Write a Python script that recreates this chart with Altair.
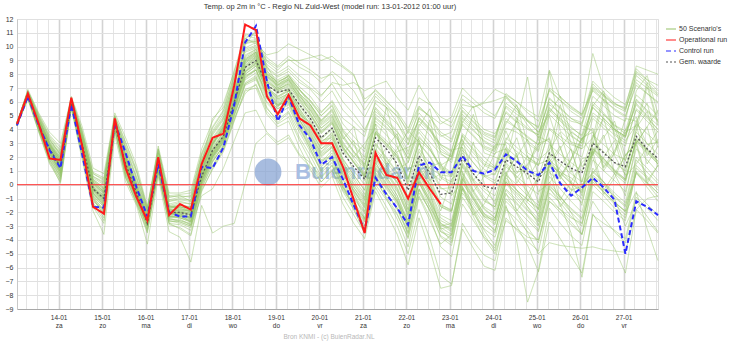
import json
import altair as alt
import pandas as pd

TITLE = "Temp. op 2m in °C - Regio NL Zuid-West (model run: 13-01-2012 01:00 uur)"
SOURCE = "Bron KNMI - (c) BuienRadar.NL"
WATERMARK = "Buienradar.nl"

# time axis: hours after 13-01-2012 00:00, model run at 01:00, 6-hourly steps
first_hour = 1
step_hours = 6
n_steps = 60
hours = [first_hour + step_hours * i for i in range(n_steps)]

day_ticks = [24 * (k + 1) for k in range(14)]
day_labels = ["14-01", "15-01", "16-01", "17-01", "18-01", "19-01", "20-01",
              "21-01", "22-01", "23-01", "24-01", "25-01", "26-01", "27-01"]
weekday_labels = ["za", "zo", "ma", "di", "wo", "do", "vr",
                  "za", "zo", "ma", "di", "wo", "do", "vr"]
minor_ticks = [h for h in range(6, 355, 6) if h % 24]
y_ticks = list(range(-9, 13))

series_names = ["50 Scenario's", "Operational run", "Control run", "Gem. waarde"]
series_colors = ["#96c36a", "#ff1a1a", "#2b2bff", "#555555"]
series_dash = [[1, 0], [1, 0], [5, 3], [2, 2]]

operational = [4.4, 6.6, 4.4, 1.9, 1.8, 6.3, 2.8, -1.6, -2.1, 4.8, 1.2, -0.9, -2.6, 2.0, -2.2,
               -1.4, -1.8, 1.5, 3.4, 3.7, 7.2, 11.6, 11.2, 6.4, 5.1, 6.5, 4.8, 4.3, 3.0, 3.0,
               1.3, -1.1, -3.5, 2.3, 0.7, 0.5, -1.0, 0.9, -0.3, -1.4]

control = [4.3, 6.4, 4.3, 2.5, 1.2, 5.8, 2.2, -1.6, -1.65, 4.5, 2.3, -0.2, -2.3, 1.5, -2.0,
           -2.3, -2.3, 1.3, 1.2, 2.7, 5.8, 10.3, 11.5, 7.5, 4.6, 6.4, 4.3, 3.3, 1.45, 2.0,
           0.4, -1.5, -3.3, 0.5, -0.7, -1.7, -2.9, 1.4, 1.6, 0.9, 0.9, 2.1, 1.0, 0.8, 1.1,
           2.2, 1.7, 1.0, 0.7, 1.6, 0.1, -0.8, -0.2, 0.5, -0.2, -1.1, -5.0, -1.2, -1.6, -2.2]

mean_value = [4.4, 6.5, 4.3, 2.6, 1.3, 5.9, 2.9, -0.3, -1.0, 4.4, 1.5, -0.6, -2.8, 1.5, -2.0,
              -2.0, -2.2, 0.6, 2.5, 3.5, 6.0, 8.5, 9.0, 7.2, 6.7, 6.9, 5.8, 4.8, 3.4, 4.1,
              2.3, 1.3, 0.4, 3.4, 2.6, 1.5, -0.4, 2.1, 0.8, -0.7, -0.6, 2.0, 0.8, -0.1, -0.3,
              1.8, 1.3, 0.8, 0.2, 2.3, 1.7, 1.2, 0.85, 3.0, 2.3, 1.6, 1.3, 3.5, 2.6, 1.9]

s01 = [4.4, 6.6, 4.6, 2.2, 1.6, 6.2, 2.7, -1.2, -1.8, 4.7, 1.2, -0.8, -2.7, 1.9, -2.1,
       -1.6, -1.9, 1.3, 3.2, 3.9, 7.1, 10.8, 10.6, 6.8, 5.6, 6.8, 5.1, 4.5, 3.2, 3.4,
       1.8, -0.6, -2.5, 2.0, 1.0, 0.2, -1.5, 1.3, 0.1, -1.6, -1.9, 1.6, 0.4, -0.5, -1.2,
       1.5, 0.4, -0.5, -1.8, 1.4, 0.9, 0.5, -0.2, 2.6, 1.8, 1.0, 0.4, 3.2, 2.4, 1.5]
s02 = [4.3, 6.4, 4.4, 2.6, 1.2, 5.8, 3.0, -1.5, -1.7, 4.5, 2.1, -0.4, -2.4, 1.5, -2.0,
       -2.3, -2.3, 1.2, 1.3, 2.7, 5.6, 10.1, 11.2, 7.6, 4.8, 6.2, 4.5, 3.4, 1.7, 2.0,
       0.4, -1.3, -3.0, 0.9, -0.2, -1.2, -2.6, 1.5, 1.2, 0.7, 0.6, 2.3, 1.1, 0.6, 0.8,
       2.4, 1.6, 1.0, 0.5, 1.9, 0.6, -0.4, -0.1, 0.9, 0.2, -0.8, -1.5, 0.8, 0.1, -0.6]
s03 = [4.5, 6.8, 5.0, 3.4, 2.4, 6.3, 3.8, 0.6, 0.2, 4.9, 2.8, 0.9, -1.8, 2.6, -0.9,
       -0.8, -1.2, 1.9, 3.8, 4.9, 7.8, 10.2, 10.4, 8.9, 8.3, 9.1, 8.5, 8.1, 7.4, 8.2,
       7.6, 6.8, 5.4, 6.6, 5.8, 4.9, 3.2, 4.6, 3.9, 2.8, 2.1, 4.3, 3.5, 2.6, 2.2,
       4.1, 3.8, 3.2, 2.5, 8.2, 3.9, 3.1, 2.8, 5.2, 4.6, 3.9, 3.4, 6.1, 5.3, 4.6]
s04 = [4.4, 6.3, 4.1, 1.8, 0.6, 5.7, 2.4, -1.0, -2.2, 4.1, 0.8, -1.2, -3.0, 1.1, -2.6,
       -2.8, -3.1, 0.2, 2.0, 3.1, 5.2, 7.4, 7.9, 5.6, 4.5, 5.2, 3.4, 2.1, 0.6, 1.4,
       -0.5, -1.8, -3.4, 0.3, -0.9, -2.1, -3.9, -0.8, -2.3, -4.5, -5.2, -1.4, -2.6, -3.8, -4.6,
       -1.2, -2.0, -3.1, -4.2, -0.9, -1.8, -2.7, -3.6, 0.4, -0.6, -1.4, -2.2, 1.2, 0.5, -0.4]
s05 = [4.3, 6.5, 4.2, 2.9, 1.9, 6.0, 3.2, 0.1, -0.6, 4.4, 1.9, -0.3, -2.2, 1.7, -1.6,
       -1.4, -1.7, 1.0, 2.9, 4.2, 6.6, 9.4, 9.8, 8.0, 7.5, 7.8, 6.9, 5.8, 4.6, 5.5,
       3.6, 2.4, 1.4, 4.8, 4.1, 3.3, 1.9, 4.0, 3.1, 2.2, 1.8, 4.6, 3.9, 3.2, 2.7,
       5.3, 4.6, 4.0, 3.6, 6.2, 5.6, 4.8, 4.5, 7.3, 6.5, 5.7, 5.3, 8.4, 7.6, 7.2]
s06 = [4.4, 6.6, 4.8, 3.1, 2.2, 6.1, 3.6, 0.4, -0.2, 4.6, 2.3, 0.2, -2.0, 2.1, -1.5,
       -1.7, -2.0, 0.7, 2.2, 3.6, 6.3, 8.8, 9.4, 7.7, 6.9, 7.3, 6.4, 5.6, 4.4, 5.0,
       3.0, 1.9, 0.8, 3.9, 3.2, 2.3, 0.2, 3.4, 2.6, 1.3, 0.8, 3.7, 2.9, 2.0, 1.3,
       3.9, 2.1, 0.4, 1.8, 5.0, 2.6, 0.9, 3.4, 2.1, 5.1, 4.2, 1.7, 4.6, 5.9, 3.0]
s07 = [4.5, 6.4, 4.0, 2.3, 0.9, 5.8, 2.6, -0.7, -1.4, 4.3, 1.3, -0.9, -3.2, 1.3, -2.4,
       -2.2, -2.7, 0.1, 1.8, 3.1, 5.4, 8.0, 8.6, 6.9, 6.1, 6.5, 5.2, 3.9, 2.6, 3.1,
       1.2, -0.2, -1.4, 1.8, 0.6, -0.8, -2.9, 0.9, -0.6, -3.2, -4.1, -0.3, -1.9, -3.6, -4.8,
       -1.6, -3.0, -4.4, -6.3, -2.7, -3.9, -5.2, -6.4, -2.1, -3.4, -4.6, -6.4, -1.8, -2.6, -3.5]
s08 = [4.4, 6.7, 4.5, 2.7, 1.5, 6.2, 3.1, -0.1, -0.8, 4.5, 1.6, -0.5, -2.5, 1.8, -1.8,
       -1.9, -1.8, 0.9, 2.6, 3.8, 6.4, 8.6, 9.1, 7.5, 6.8, 7.2, 6.2, 5.4, 4.1, 4.7,
       2.9, 2.1, 1.2, 4.4, 1.5, 2.6, 3.9, 3.1, 0.9, 0.3, 2.5, 2.7, -0.5, 0.6, 2.3,
       2.6, 0.9, 1.1, 3.5, 3.1, 0.4, 1.8, 4.3, 3.9, 1.2, 2.3, 4.8, 4.6, 2.9, 3.1]
s09 = [4.3, 6.2, 3.8, 1.5, 0.2, 5.6, 2.0, -1.6, -2.8, 4.0, 0.6, -1.4, -3.5, 0.9, -2.9,
       -3.1, -3.6, -0.4, 1.1, 2.4, 4.6, 6.8, 7.0, 5.1, 4.2, 4.6, 2.7, 1.1, -0.2, 0.6,
       -1.4, -2.8, -3.9, -0.5, -2.0, -3.6, -5.8, -2.4, -4.7, -7.5, -7.3, -2.8, -4.1, -5.1, -5.5,
       -1.8, -2.5, -3.4, -4.0, -0.6, -1.3, -2.3, -3.0, 0.7, 0.0, -0.9, -1.6, 1.8, 0.9, 0.1]
s10 = [4.4, 6.5, 4.3, 2.4, 1.0, 5.9, 2.8, -0.4, -1.2, 4.4, 1.4, -0.7, -2.8, 1.4, -2.2,
       -2.1, -2.5, 0.4, 2.3, 3.4, 5.8, 8.2, 8.7, 6.7, 5.9, 6.3, 4.9, 3.7, 2.2, 2.8,
       0.9, -0.4, -1.6, 1.6, 0.3, -1.1, -3.2, 0.4, -1.3, -3.4, -3.9, -0.1, -1.8, -3.3, -4.4,
       -1.5, -4.1, -8.5, -6.2, -1.7, -2.8, -3.7, -4.4, -0.5, -1.2, -2.0, -2.6, 1.0, 0.2, -0.6]
s11 = [4.5, 6.9, 5.2, 3.8, 3.0, 6.4, 4.2, 1.2, 0.8, 5.2, 3.4, 1.4, -1.6, 2.8, -0.6,
       -0.6, -0.4, 2.6, 4.6, 5.9, 8.2, 10.6, 10.2, 9.4, 9.6, 10.2, 9.8, 9.4, 9.0, 9.3,
       8.6, 8.0, 5.9, 6.9, 6.1, 5.2, 3.7, 5.6, 4.9, 3.6, 3.1, 5.4, 4.6, 3.8, 3.5,
       5.7, 5.1, 4.6, 4.2, 7.0, 6.4, 5.6, 5.1, 9.5, 7.0, 6.3, 5.8, 8.2, 7.6, 6.8]
s12 = [4.3, 6.3, 4.2, 2.0, 0.8, 5.8, 2.5, -0.9, -1.9, 4.2, 1.0, -1.0, -2.9, 1.2, -2.5,
       -2.5, -2.9, -0.3, 1.6, 2.9, 5.0, 7.2, 7.6, 6.0, 5.3, 5.8, 4.1, 2.8, 1.4, 2.3,
       0.4, -0.9, -2.0, 1.2, 0.0, -1.3, -3.0, 0.2, -1.6, -3.0, -2.8, 0.9, -0.4, -1.6, -2.1,
       0.6, 2.3, -1.2, 0.5, 1.1, -1.6, -0.5, 1.9, 2.0, -0.7, 0.5, 2.2, 2.9, 0.1, 1.4]
s13 = [4.4, 6.6, 4.7, 3.0, 2.0, 6.1, 3.4, 0.3, -0.3, 4.7, 2.2, 0.1, -2.1, 2.0, -1.4,
       -1.2, -1.4, 1.6, 3.4, 4.5, 7.2, 9.9, 10.3, 8.4, 7.8, 8.2, 7.4, 6.9, 6.0, 6.8,
       5.4, 4.6, 3.8, 5.9, 5.1, 4.4, 3.3, 5.2, 4.3, 3.5, 3.8, 6.2, 5.6, 6.0, 6.9,
       6.5, 6.0, 5.2, 4.6, 6.8, 6.1, 5.5, 5.0, 7.1, 6.5, 5.9, 5.5, 7.6, 7.0, 6.4]
s14 = [4.3, 6.4, 4.1, 2.5, 1.1, 5.9, 2.9, -0.6, -1.5, 4.3, 1.2, -0.8, -2.6, 1.6, -2.1,
       -2.0, -2.2, 0.5, 2.1, 3.3, 5.7, 8.1, 8.8, 7.0, 6.2, 6.6, 5.3, 4.2, 2.9, 3.6,
       1.6, 0.5, -0.7, 2.5, 1.4, 0.2, -1.8, 1.7, 0.5, -1.4, -1.9, 1.5, 0.3, -0.9, -1.8,
       0.9, -0.4, -1.6, -2.9, -0.2, -1.4, -3.5, -6.7, -2.2, -2.8, -3.3, -3.9, -0.6, -1.4, -2.2]
s15 = [4.4, 6.5, 4.4, 2.8, 1.7, 6.0, 3.0, -0.2, -0.9, 4.4, 1.7, -0.5, -2.6, 1.5, -2.0,
       -2.2, -2.4, 0.6, 2.5, 3.5, 6.1, 8.4, 9.0, 7.3, 6.6, 7.0, 5.7, 4.6, 3.3, 4.0,
       2.2, 3.2, 0.3, 1.5, 2.7, 3.7, -0.1, 0.4, 1.3, 1.6, -0.8, 0.2, 3.1, 0.1, -1.4,
       1.9, 3.4, 0.8, -1.3, 2.5, 3.8, 1.2, -0.8, 3.4, 4.8, 2.1, 0.7, 4.1, 5.3, 2.7]
s16 = [4.5, 6.7, 4.9, 3.3, 2.1, 6.2, 3.5, 0.5, 0.0, 4.8, 2.5, 0.4, -1.9, 2.3, -1.2,
       -1.0, -1.1, 1.8, 3.6, 4.7, 7.4, 9.6, 9.9, 8.2, 7.6, 8.0, 7.1, 6.4, 5.3, 6.0,
       4.4, 3.5, 2.6, 5.6, 4.7, 3.9, 2.4, 4.9, 4.1, 2.9, 2.5, 5.1, 4.3, 3.4, 3.0,
       5.9, 5.3, 4.7, 4.1, 6.9, 6.1, 5.3, 4.8, 7.5, 6.7, 5.9, 5.4, 7.9, 7.2, 6.5]
s17 = [4.4, 6.3, 3.9, 1.6, 0.4, 5.7, 2.2, -1.3, -2.4, 4.0, 0.5, -1.3, -3.3, 0.9, -2.8,
       -2.9, -3.3, -0.2, 1.4, 2.6, 4.8, 6.6, 7.3, 5.5, 4.7, 5.3, 3.8, 2.4, 1.0, 1.9,
       0.1, -1.2, -2.5, 0.7, -0.6, -1.8, -3.6, -0.3, -1.9, -3.8, -4.4, -0.6, -1.7, -2.9, -3.5,
       0.2, -0.7, -1.6, -2.5, 1.3, 0.6, -0.3, -1.0, 2.4, 1.6, 0.8, 0.1, 3.3, 2.5, 1.7]
s18 = [4.4, 6.8, 5.1, 3.6, 2.7, 6.3, 3.9, 0.9, 0.5, 5.0, 3.1, 1.1, -1.7, 2.5, -0.8,
       -0.7, -0.6, 2.3, 4.2, 5.4, 8.0, 10.4, 10.5, 9.2, 8.6, 9.3, 8.8, 8.3, 7.7, 8.0,
       6.8, 6.0, 4.9, 6.4, 5.6, 4.5, 2.9, 4.8, 4.0, 2.6, 2.0, 4.4, 3.6, 2.7, 2.4,
       4.6, 4.1, 3.4, 2.9, 5.8, 5.2, 4.6, 4.4, 7.0, 6.4, 5.8, 5.6, 8.6, 8.3, 8.0]
s19 = [4.3, 6.2, 3.9, 1.7, 0.1, 5.5, 1.8, -1.9, -3.6, 3.6, 0.2, -1.5, -4.3, 0.6, -3.4,
       -3.8, -5.6, -1.5, -3.5, -3.0, -2.8, 0.1, 3.0, 3.7, 2.9, 3.4, 2.1, 1.3, 0.2, 1.0,
       -0.4, -1.5, -2.4, 0.8, -0.3, -1.4, -3.1, 0.1, -1.2, -2.8, -3.3, 0.1, -1.0, -2.2, -2.6,
       0.5, -0.4, -1.1, -1.8, 1.6, 0.9, 0.1, -0.6, 2.6, 1.9, 1.1, 0.4, 3.1, 2.3, 1.5]
s20 = [4.5, 6.6, 4.6, 2.9, 1.8, 6.0, 3.3, 0.2, -0.5, 4.6, 2.0, -0.2, -2.3, 1.8, -1.7,
       -1.5, -1.6, 1.1, 3.0, 4.1, 6.8, 9.1, 9.6, 7.9, 7.1, 7.6, 6.5, 5.7, 4.5, 5.1,
       3.3, 4.2, 1.1, 2.3, 5.6, 2.8, 1.1, 1.6, 4.7, 1.4, 0.9, 2.9, 5.1, 2.3, 2.0,
       1.6, 4.9, 2.3, 1.8, 2.5, 5.8, 3.0, 2.6, 3.4, 6.6, 3.7, 3.2, 4.3, 7.4, 4.5]
s21 = [4.4, 6.5, 4.3, 2.3, 0.9, 5.9, 2.7, -0.6, -1.3, 4.3, 1.3, -0.8, -2.7, 1.3, -2.3,
       -2.4, -2.6, 0.3, 2.0, 3.2, 5.5, 7.9, 8.3, 6.5, 5.7, 6.1, 4.7, 3.5, 2.1, 2.7,
       0.7, -0.5, -1.7, 1.3, 0.1, -1.0, -2.8, 0.5, -1.1, -2.9, -3.4, -0.2, -2.3, -3.9, -5.0,
       -2.6, -3.2, -3.8, -4.0, -1.2, -1.8, -2.4, -2.8, 0.2, -0.5, -1.3, -1.9, 1.4, 0.6, -0.2]
s22 = [4.4, 6.5, 4.5, 2.6, 1.4, 6.0, 3.0, -0.3, -1.0, 4.4, 1.5, -0.6, -2.6, 1.5, -2.0,
       -2.0, -2.0, 1.5, 4.8, 5.6, 8.3, 10.9, 10.8, 8.6, 7.2, 7.9, 6.6, 5.2, 3.9, 4.6,
       2.8, 1.6, 0.5, 3.7, 2.8, 1.9, 0.0, 2.6, 1.5, -0.2, -0.7, 2.5, 1.6, 0.7, 0.3,
       2.3, 1.7, 1.2, 0.6, 2.9, 2.2, 1.6, 1.0, 3.6, 2.9, 2.2, 1.8, 4.4, 3.7, 3.0]
s23 = [4.3, 6.4, 4.2, 2.2, 0.8, 5.8, 2.6, -0.8, -1.6, 4.2, 1.1, -0.9, -2.8, 1.2, -2.4,
       -2.7, -3.0, -0.8, -0.3, 1.2, 3.2, 5.2, 5.4, 3.8, 3.1, 3.6, 2.2, 1.6, 0.5, 1.4,
       -0.2, -1.0, -2.1, 1.4, 0.5, -0.5, -2.2, 1.1, 0.0, -1.6, -2.0, 1.4, 0.2, -1.1, -1.6,
       1.3, 0.6, -0.1, -0.7, 2.2, 1.5, 0.8, 0.2, 3.1, 2.4, 1.6, 1.0, 3.8, 3.0, 2.2]
s24 = [4.5, 6.7, 4.7, 3.2, 2.3, 6.2, 3.7, 0.8, 0.3, 4.9, 2.7, 0.6, -1.8, 2.4, -1.1,
       -0.9, -0.8, 2.1, 3.9, 5.1, 7.6, 9.8, 10.1, 8.7, 8.1, 8.6, 7.9, 7.3, 6.5, 7.3,
       6.0, 5.1, 4.0, 5.5, 4.5, 3.4, 1.6, 3.8, 2.8, 1.2, 0.7, 3.6, 2.6, 1.7, 1.2,
       3.4, 2.7, 2.0, 1.4, 4.0, 3.3, 2.5, 2.0, 4.8, 4.1, 3.3, 2.8, 5.5, 4.8, 4.0]
s25 = [4.4, 6.4, 4.3, 2.7, 1.4, 5.9, 2.9, -0.3, -1.1, 4.5, 1.5, -0.6, -2.6, 1.6, -2.1,
       -2.1, -2.4, 0.7, 2.4, 3.6, 6.0, 8.5, 9.2, 7.1, 6.4, 6.9, 5.5, 4.3, 3.0, 3.8,
       1.9, 0.7, -0.4, 2.9, 1.9, 0.8, -1.1, 1.9, 0.9, -0.9, -1.4, 1.8, 0.8, -0.3, -0.8,
       1.6, 0.8, 2.1, -0.5, 0.1, 1.3, 2.6, 0.0, 0.8, 2.0, 3.2, 0.6, 1.5, 2.7, 3.9]
s26 = [4.4, 6.6, 4.5, 2.5, 1.3, 6.0, 2.9, -0.4, -1.2, 4.4, 1.4, -0.7, -2.7, 1.4, -2.1,
       -2.1, -2.3, 0.4, 2.2, 3.3, 5.8, 8.2, 8.9, 7.0, 6.3, 6.8, 5.4, 4.1, 2.8, 3.5,
       1.5, 0.3, -0.9, 2.2, 1.0, -0.2, -2.0, 1.0, -0.4, -2.2, -2.6, 0.8, -0.5, -1.7, -2.4,
       0.1, -0.9, -1.8, -2.7, 0.2, -0.8, -2.0, -3.6, -1.2, -2.4, -3.4, -4.2, -0.9, -1.7, -2.6]
s27 = [4.3, 6.5, 4.4, 2.4, 1.2, 5.9, 2.8, -0.5, -1.3, 4.3, 1.3, -0.7, -2.7, 1.3, -2.2,
       -2.3, -2.5, 0.3, 2.1, 3.4, 5.6, 7.8, 8.4, 6.6, 5.8, 6.3, 4.9, 3.6, 2.3, 3.0,
       1.0, -0.2, -1.2, 1.9, 0.8, -0.4, -2.3, 0.7, -0.8, -2.6, -3.0, 0.5, -0.8, -2.1, -2.8,
       -0.4, -1.3, -2.2, -3.0, 0.0, -0.9, -1.8, -2.5, 0.6, -0.3, -1.2, -2.0, -0.5, -3.2, -5.5]
s28 = [4.4, 6.6, 4.6, 2.8, 1.6, 6.1, 3.1, 0.0, -0.7, 4.6, 1.8, -0.3, -2.4, 1.7, -1.8,
       -1.8, -1.9, 1.0, 2.8, 4.0, 6.5, 8.9, 9.5, 7.8, 7.2, 7.7, 6.8, 6.1, 5.2, 6.1,
       4.8, 4.2, 3.5, 6.1, 5.6, 5.0, 3.9, 6.3, 5.8, 4.9, 4.5, 6.5, 5.9, 5.2, 4.8,
       6.6, 6.0, 5.4, 4.9, 8.3, 6.3, 5.7, 5.1, 6.8, 6.1, 5.5, 5.0, 7.2, 6.6, 6.0]
s29 = [4.5, 6.7, 4.8, 3.0, 1.9, 6.1, 3.4, 0.3, -0.4, 4.7, 2.1, 0.0, -2.2, 1.9, -1.6,
       -1.5, -1.6, 1.4, 3.1, 4.4, 6.9, 9.2, 9.7, 8.0, 7.4, 7.9, 6.9, 6.0, 5.0, 5.8,
       4.0, 3.1, 2.4, 5.3, 4.6, 3.8, 2.9, 5.5, 5.0, 4.4, 4.9, 7.0, 6.2, 5.5, 5.0,
       6.4, 5.7, 4.6, 3.8, 6.0, 5.1, 4.2, 3.5, 5.6, 4.8, 4.0, 3.5, 5.9, 5.0, 4.3]
s30 = [4.4, 6.5, 4.4, 2.6, 1.3, 5.9, 2.9, -0.3, -1.0, 4.4, 1.5, -0.6, -2.6, 1.5, -2.0,
       -2.0, -2.2, 0.6, 2.4, 3.5, 6.0, 8.5, 9.0, 7.2, 6.7, 6.9, 5.8, 4.8, 3.4, 4.1,
       2.6, 1.0, 0.0, 3.0, 2.0, 0.9, -0.9, 2.4, 1.2, -0.3, -0.2, 2.7, 1.6, 0.6, 0.1,
       2.6, 0.5, 1.5, 3.0, 3.3, 0.6, 1.9, 3.4, 3.8, 1.0, 2.3, 3.8, 4.3, 1.5, 2.8]
s31 = [4.3, 6.3, 4.0, 1.9, 0.5, 5.7, 2.3, -1.1, -2.1, 4.1, 0.7, -1.1, -3.1, 1.0, -2.7,
       -2.6, -2.8, 0.0, 1.7, 2.8, 5.1, 7.3, 7.8, 6.2, 5.5, 6.0, 4.4, 3.0, 1.6, 2.5,
       0.6, -0.7, -1.9, 1.1, -0.1, -1.2, -3.0, 0.2, -1.3, -3.1, -3.6, -0.3, -1.5, -2.6, -3.3,
       -0.7, -1.4, -2.3, -3.3, -0.3, -1.1, -2.0, -2.8, 0.4, -0.5, -1.3, -1.9, 0.9, -0.2, -1.2]
s32 = [4.4, 6.6, 4.5, 2.9, 1.7, 6.0, 3.2, 0.1, -0.6, 4.6, 1.9, -0.2, -2.4, 1.8, -1.7,
       -1.6, -1.8, 1.2, 3.0, 4.1, 6.7, 9.0, 9.5, 7.8, 7.0, 7.5, 6.4, 5.5, 4.3, 4.9,
       3.5, 2.4, 1.5, 4.6, 3.9, 1.1, 1.6, 4.2, 5.5, 2.3, 1.6, 4.5, 5.7, 2.8, 2.5,
       4.4, 5.8, 3.0, 2.4, 5.2, 6.4, 3.6, 3.0, 5.7, 6.8, 4.0, 3.5, 6.8, 7.9, 5.1]
s33 = [4.3, 6.4, 4.1, 2.1, 0.7, 5.8, 2.5, -0.9, -1.8, 4.2, 0.9, -1.0, -2.9, 1.2, -2.5,
       -2.6, -2.9, 0.0, 1.9, 3.0, 5.3, 7.6, 8.1, 6.3, 5.5, 5.9, 4.3, 2.9, 1.3, 2.0,
       0.0, -1.6, -3.2, 0.5, -1.0, -2.5, -4.5, -0.9, -2.6, -4.3, -3.6, 0.6, -0.6, -1.8, -2.4,
       0.7, 0.0, -0.8, -1.5, 1.8, 1.1, 0.2, -0.4, 2.7, 1.9, 1.0, 0.3, 3.4, 2.6, 1.7]
s34 = [4.5, 6.7, 4.8, 3.1, 2.0, 6.1, 3.5, 0.4, -0.3, 4.7, 2.2, 0.1, -2.1, 2.0, -1.5,
       -1.3, -1.4, 1.5, 3.3, 4.4, 7.0, 9.3, 9.8, 8.1, 7.4, 7.9, 6.9, 6.1, 5.0, 5.7,
       3.9, 2.8, 1.8, 4.9, 4.2, 3.4, 1.9, 4.4, 3.6, 2.4, 2.0, 4.8, 4.0, 3.1, 2.6,
       4.8, 4.1, 3.5, 2.9, 5.5, 4.8, 4.1, 3.6, 6.4, 5.7, 5.0, 4.6, 8.1, 7.4, 6.6]
s35 = [4.4, 6.5, 4.3, 2.5, 1.2, 5.9, 2.8, -0.4, -1.1, 4.4, 1.4, -0.7, -2.7, 1.4, -2.1,
       -2.2, -2.4, 0.5, 2.3, 3.4, 5.8, 8.3, 8.9, 7.0, 6.4, 6.8, 5.5, 4.4, 3.1, 3.7,
       1.8, 0.7, -0.4, 2.6, 1.7, 0.6, -1.3, 1.5, 0.3, -1.5, -1.8, 1.3, 0.0, -1.2, -1.6,
       0.8, 2.1, -0.6, -2.3, 1.6, 2.8, 0.1, -1.5, 2.3, 3.6, 0.8, -0.8, 3.0, 4.2, 1.3]
s36 = [4.4, 6.6, 4.6, 2.7, 1.5, 6.0, 3.0, -0.2, -0.9, 4.5, 1.6, -0.5, -2.5, 1.6, -1.9,
       -1.9, -2.1, 0.8, 2.6, 3.7, 6.2, 8.7, 9.2, 7.4, 6.8, 7.1, 6.0, 5.0, 3.7, 4.4,
       2.6, 1.6, 0.6, 3.7, 2.9, 2.0, 0.4, 3.2, 2.5, 1.4, 1.9, 4.9, 4.2, 3.6, 3.2,
       6.3, 5.5, 4.3, 3.4, 5.6, 4.7, 3.9, 3.2, 5.0, 4.3, 3.6, 3.0, 5.4, 4.6, 3.8]
s37 = [4.3, 6.3, 4.0, 1.8, 0.3, 5.7, 2.1, -1.4, -2.6, 4.0, 0.5, -1.3, -3.4, 1.0, -2.8,
       -3.2, -3.7, -0.5, 1.2, 2.5, 4.7, 6.9, 7.2, 5.3, 4.4, 4.9, 3.2, 1.7, 0.2, 1.1,
       -0.9, -2.2, -3.5, -0.2, -1.6, -3.0, -5.0, -1.8, -3.9, -6.6, -7.2, -3.2, -4.6, -5.9, -6.2,
       -2.4, -3.3, -4.1, -4.8, -1.2, -2.0, -2.9, -3.6, 0.0, -0.8, -1.7, -2.4, 0.9, 0.1, -0.9]
s38 = [4.5, 6.6, 4.6, 2.9, 1.8, 6.1, 3.3, 0.2, -0.5, 4.6, 2.0, -0.1, -2.3, 1.8, -1.7,
       -1.6, -1.7, 1.2, 3.0, 4.0, 6.6, 8.9, 9.4, 7.6, 6.9, 7.4, 6.3, 5.4, 4.1, 4.8,
       3.1, 2.0, 3.0, 4.1, 1.3, 2.4, 2.7, 3.3, 0.3, 0.8, 2.3, 3.3, 0.3, 1.3, 2.9,
       2.9, 0.1, 1.4, 2.8, 3.4, 0.6, 1.8, 3.3, 4.1, 1.3, 2.5, 4.0, 4.9, 2.1, 3.3]
s39 = [4.4, 6.5, 4.4, 2.6, 1.4, 6.0, 3.0, -0.2, -0.9, 4.5, 1.6, -0.5, -2.5, 1.6, -1.9,
       -1.9, -2.0, 0.9, 2.7, 3.8, 6.3, 8.8, 9.3, 7.5, 6.9, 7.3, 6.1, 5.1, 3.8, 4.5,
       2.7, 1.6, 0.6, 3.8, 3.0, 2.1, 0.5, 3.0, 2.1, 0.6, 0.2, 3.2, 2.3, 1.4, 1.0,
       3.1, 2.4, 1.8, 1.4, 4.1, 3.5, 2.9, 2.6, 6.0, 5.2, 4.3, 3.7, 5.8, 4.9, 4.0]
s40 = [4.3, 6.4, 4.2, 2.2, 0.9, 5.8, 2.6, -0.8, -1.6, 4.2, 1.1, -0.9, -2.8, 1.3, -2.3,
       -2.4, -2.7, 0.2, 2.0, 3.2, 5.5, 7.8, 8.3, 6.5, 5.8, 6.2, 4.7, 3.3, 1.8, 2.1,
       -0.1, -1.8, -3.5, 0.0, -1.1, -2.2, -3.8, -0.6, -1.8, -3.4, -3.7, -0.2, -1.3, -2.3, -2.6,
       0.3, -0.4, -1.1, -1.7, 1.5, 0.8, 0.1, -0.5, 2.5, 1.7, 0.9, 0.3, 3.2, 2.5, 1.6]
s41 = [4.5, 6.8, 5.0, 3.5, 2.5, 6.3, 3.9, 0.8, 0.4, 5.0, 3.0, 1.0, -1.7, 2.6, -0.9,
       -0.8, -0.9, 2.2, 4.1, 5.3, 7.9, 10.3, 10.4, 9.0, 8.5, 9.0, 9.0, 9.2, 9.4, 9.0,
       8.5, 7.9, 6.2, 6.8, 6.0, 5.3, 4.1, 5.7, 4.9, 3.8, 3.3, 5.6, 4.8, 4.0, 3.7,
       5.2, 4.5, 7.8, 3.2, 5.4, 4.6, 3.8, 3.3, 5.8, 5.1, 4.3, 3.9, 6.5, 5.8, 5.0]
s42 = [4.4, 6.5, 4.4, 2.6, 1.4, 6.0, 3.0, -0.3, -1.0, 4.4, 1.5, -0.6, -2.6, 1.5, -2.0,
       -2.0, -2.1, 0.7, 2.5, 3.6, 6.1, 8.6, 9.3, 7.0, 5.8, 6.0, 4.2, 2.6, 0.9, 1.6,
       -0.3, -1.5, -2.7, 0.5, -0.6, -1.7, -3.4, -0.3, -1.6, -3.2, -3.0, 0.4, -0.9, -2.1, -2.5,
       0.2, -0.6, -1.3, -2.1, 0.9, 0.2, -0.6, -1.3, 1.8, 1.0, 0.3, -0.5, 2.6, 1.8, 0.9]
s43 = [4.4, 6.6, 4.6, 2.8, 1.6, 6.1, 3.2, 0.0, -0.6, 4.6, 1.8, -0.3, -2.4, 1.7, -1.8,
       -1.7, -1.9, 1.1, 2.9, 4.0, 6.6, 9.0, 9.6, 7.9, 7.3, 7.7, 6.6, 5.8, 4.7, 5.4,
       3.8, 2.9, 2.0, 5.1, 4.4, 3.6, 2.2, 4.8, 4.0, 2.9, 2.4, 5.3, 4.5, 3.7, 3.4,
       5.6, 4.8, 4.1, 3.6, 6.3, 5.5, 4.8, 4.3, 6.9, 6.2, 5.4, 4.9, 7.4, 6.6, 5.9]
s44 = [4.3, 6.4, 4.2, 2.4, 1.0, 5.8, 2.7, -0.6, -1.4, 4.3, 1.2, -0.8, -2.8, 1.3, -2.3,
       -2.3, -2.6, 0.3, 2.1, 3.3, 5.6, 8.0, 8.6, 6.8, 6.0, 6.4, 5.0, 3.8, 2.4, 3.1,
       1.1, 0.0, -1.1, 2.2, 1.2, 0.1, -1.8, 1.2, 0.0, -1.9, 0.4, 1.0, -2.2, -1.4, 0.1,
       0.9, -1.9, -0.7, 0.6, 1.7, -1.1, 0.2, 1.6, 2.4, -0.4, 0.8, 2.1, 3.1, 0.3, 1.4]
s45 = [4.4, 6.5, 4.3, 2.5, 1.2, 5.9, 2.8, -0.5, -1.2, 4.4, 1.4, -0.7, -2.7, 1.4, -2.1,
       -2.1, -2.4, 0.5, 2.3, 3.4, 5.7, 8.2, 8.8, 7.0, 6.2, 6.6, 5.2, 4.0, 2.6, 3.3,
       1.3, 0.1, -1.0, 2.0, 0.9, -0.3, -2.1, 0.8, -0.6, -2.4, -2.9, 0.4, -1.0, -2.4, -3.4,
       -0.6, -2.1, -3.5, -5.0, -4.2, -4.4, -4.5, -4.6, -4.5, -4.7, -4.8, -4.9, -1.8, -1.0, -0.8]
s46 = [4.5, 6.7, 4.7, 3.0, 1.8, 6.1, 3.3, 0.2, -0.5, 4.6, 2.0, -0.1, -2.3, 1.9, -1.6,
       -1.6, -1.7, 1.2, 3.1, 4.2, 6.8, 9.1, 9.6, 7.9, 7.2, 7.6, 6.6, 5.8, 4.6, 5.3,
       3.4, 2.3, 1.3, 4.4, 3.6, 2.7, 1.0, 3.5, 2.6, 1.1, 0.6, 3.5, 2.5, 1.5, 1.2,
       3.2, 4.6, 2.0, 1.5, 1.8, 5.1, 2.5, 0.2, 2.9, 6.2, 3.5, 1.2, 3.9, 7.1, 4.3]
s47 = [4.3, 6.3, 4.0, 2.0, 0.6, 5.7, 2.4, -1.0, -2.0, 4.1, 0.8, -1.1, -3.0, 1.1, -2.6,
       -2.7, -3.0, -0.1, 1.7, 2.8, 5.0, 7.3, 7.7, 5.9, 5.1, 5.6, 4.0, 2.6, 1.1, 1.8,
       -0.2, -1.4, -2.6, 0.6, -0.6, -1.7, -3.5, -0.4, -1.9, -3.7, -4.2, -0.9, -2.1, -3.2, -3.8,
       -1.0, -1.8, -2.6, -3.4, -0.1, -0.9, -1.7, -2.4, 1.0, 0.2, -0.6, -1.3, 2.0, 1.2, 0.3]
s48 = [4.5, 6.7, 4.9, 3.3, 2.2, 6.2, 3.6, 0.6, 0.1, 4.8, 2.6, 0.5, -1.9, 2.3, -1.2,
       -1.1, -1.2, 1.8, 3.7, 4.8, 7.4, 9.7, 10.0, 8.5, 7.9, 8.4, 7.6, 7.0, 6.4, 7.4,
       7.2, 7.4, 6.8, 7.2, 7.5, 6.3, 5.4, 7.2, 5.9, 4.6, 4.2, 5.8, 5.6, 5.9, 6.1,
       6.4, 5.5, 4.6, 3.8, 5.1, 4.3, 3.5, 3.0, 5.6, 4.8, 4.0, 3.5, 6.2, 5.4, 4.7]
s49 = [4.4, 6.6, 4.6, 2.8, 1.6, 6.1, 3.1, -0.1, -0.8, 4.5, 1.7, -0.4, -2.5, 1.6, -1.9,
       -1.8, -1.9, 1.0, 2.9, 4.3, 7.5, 10.6, 11.0, 8.3, 7.0, 7.6, 6.2, 5.1, 3.8, 4.5,
       2.7, 1.7, 0.7, 3.8, 3.0, 2.1, 0.4, 3.0, 2.0, 0.5, 0.0, 3.0, 2.0, 1.1, 0.7,
       2.7, 2.0, 3.3, 0.7, 1.3, 2.6, 3.8, 1.3, 2.2, 3.4, 4.6, 2.1, 3.0, 4.2, 5.4]
s50 = [4.3, 6.4, 4.2, 2.3, 1.0, 5.8, 2.7, -0.7, -1.5, 4.3, 1.2, -0.8, -2.8, 1.3, -2.3,
       -2.4, -2.7, 0.2, 2.0, 3.1, 5.4, 7.7, 8.3, 6.4, 5.7, 6.2, 4.7, 3.4, 2.0, 2.7,
       0.8, -0.4, -1.5, 1.6, 0.4, -0.8, -2.6, 0.3, -1.0, -2.8, -3.2, 0.2, -1.1, -2.3, -2.9,
       -0.3, -1.1, -1.9, -2.6, 0.6, -0.3, -1.2, -2.0, 1.2, 0.2, -1.0, -3.0, -1.2, -2.3, -3.4]

scenarios = [s01, s02, s03, s04, s05, s06, s07, s08, s09, s10,
             s11, s12, s13, s14, s15, s16, s17, s18, s19, s20,
             s21, s22, s23, s24, s25, s26, s27, s28, s29, s30,
             s31, s32, s33, s34, s35, s36, s37, s38, s39, s40,
             s41, s42, s43, s44, s45, s46, s47, s48, s49, s50]

for k, s in enumerate(scenarios):
    if len(s) != n_steps:
        raise ValueError(f"scenario {k + 1} has {len(s)} values")
for name, s in [("control", control), ("mean", mean_value)]:
    if len(s) != n_steps:
        raise ValueError(f"{name} has {len(s)} values")

# ---------- tables ----------
rows = []
for k, s in enumerate(scenarios):
    for h, v in zip(hours, s):
        rows.append({"t": h, "v": v, "member": f"m{k + 1:02d}", "series": series_names[0]})
ens_df = pd.DataFrame(rows)
op_df = pd.DataFrame({"t": hours[:len(operational)], "v": operational, "series": series_names[1]})
ctl_df = pd.DataFrame({"t": hours, "v": control, "series": series_names[2]})
mean_df = pd.DataFrame({"t": hours, "v": mean_value, "series": series_names[3]})
zero_df = pd.DataFrame({"v": [0]})
one_df = pd.DataFrame({"k": [0]})

FONT = "Liberation Sans"
X_SCALE = alt.Scale(domain=[hours[0], hours[-1]], nice=False, zero=False)
Y_SCALE = alt.Scale(domain=[y_ticks[0], y_ticks[-1]], nice=False, zero=False)

legend = alt.Legend(
    title=None, orient="none", legendX=648, legendY=4,
    symbolType="stroke", symbolSize=100, symbolStrokeWidth=2,
    labelFont=FONT, labelFontSize=7, labelColor="#333333",
    labelOffset=2, rowPadding=1, padding=0,
)
color_enc = alt.Color("series:N", scale=alt.Scale(domain=series_names, range=series_colors), legend=legend)
dash_enc = alt.StrokeDash("series:N", scale=alt.Scale(domain=series_names, range=series_dash), legend=legend)

DL = json.dumps(day_labels)
WL = json.dumps(weekday_labels)
label_expr = f"[{DL}[round(datum.value / 24) - 1], {WL}[round(datum.value / 24) - 1]]"

main_x_axis = alt.Axis(
    orient="bottom", values=day_ticks, grid=True, gridColor="#d3d3d3", gridWidth=1.6,
    labelExpr=label_expr, labelFont=FONT, labelFontSize=6.5, labelColor="#333333",
    labelPadding=5, labelLineHeight=8, labelAngle=0, labelBaseline="top",
    ticks=False, domain=True, domainColor="#a8a8a8", title=None,
)
minor_x_axis = alt.Axis(
    orient="bottom", values=minor_ticks, grid=True, gridColor="#e4e4e4", gridWidth=1,
    labels=False, ticks=False, domain=False, title=None,
)
y_axis = alt.Axis(
    orient="left", values=y_ticks, grid=True, gridColor="#e0e0e0", labelFont=FONT, labelFontSize=7,
    labelColor="#333333", labelPadding=4, ticks=False, domain=True,
    domainColor="#c8c8c8", title=None,
)

logo = alt.Chart(one_df).mark_circle(size=720, color="#8aa6d4", opacity=0.75).encode(
    x=alt.value(251), y=alt.value(153))
logo_text = alt.Chart(one_df).mark_text(
    text=WATERMARK, font=FONT, fontSize=22, fontWeight="bold", color="#a9bee2",
    align="left", baseline="middle").encode(x=alt.value(278), y=alt.value(153))

ens = alt.Chart(ens_df).mark_line(strokeWidth=1, opacity=0.5).encode(
    x=alt.X("t:Q", scale=X_SCALE, axis=minor_x_axis),
    y=alt.Y("v:Q", scale=Y_SCALE, axis=y_axis),
    detail="member:N", color=color_enc, strokeDash=dash_enc,
)
zero = alt.Chart(zero_df).mark_rule(color="#ff2a2a", strokeWidth=1).encode(
    y=alt.Y("v:Q", scale=Y_SCALE, axis=None))
mean_line = alt.Chart(mean_df).mark_line(strokeWidth=1.3).encode(
    x=alt.X("t:Q", scale=X_SCALE, axis=None),
    y=alt.Y("v:Q", scale=Y_SCALE, axis=None),
    color=color_enc, strokeDash=dash_enc,
)
ctl_line = alt.Chart(ctl_df).mark_line(strokeWidth=2).encode(
    x=alt.X("t:Q", scale=X_SCALE, axis=None),
    y=alt.Y("v:Q", scale=Y_SCALE, axis=None),
    color=color_enc, strokeDash=dash_enc,
)
op_line = alt.Chart(op_df).mark_line(strokeWidth=2).encode(
    x=alt.X("t:Q", scale=X_SCALE, axis=main_x_axis),
    y=alt.Y("v:Q", scale=Y_SCALE, axis=None),
    color=color_enc, strokeDash=dash_enc,
)
title_text = alt.Chart(one_df).mark_text(
    text=TITLE, font=FONT, fontSize=7.5, color="#333333", align="center", baseline="middle"
).encode(x=alt.value(313), y=alt.value(-12))
source_text = alt.Chart(one_df).mark_text(
    text=SOURCE, font=FONT, fontSize=6.5, color="#b8b8b8", align="center", baseline="middle"
).encode(x=alt.value(312), y=alt.value(318))

chart = alt.layer(
    logo, logo_text, ens, zero, mean_line, ctl_line, op_line, title_text, source_text
).resolve_axis(x="independent", y="independent").properties(
    width=641, height=290,
    autosize=alt.AutoSizeParams(type="none"),
    padding={"left": 17, "top": 19, "right": 74, "bottom": 32},
).configure_view(stroke="#d4d4d4").configure(background="white")

chart.save("out.html", embed_options={"renderer": "svg", "actions": False})
